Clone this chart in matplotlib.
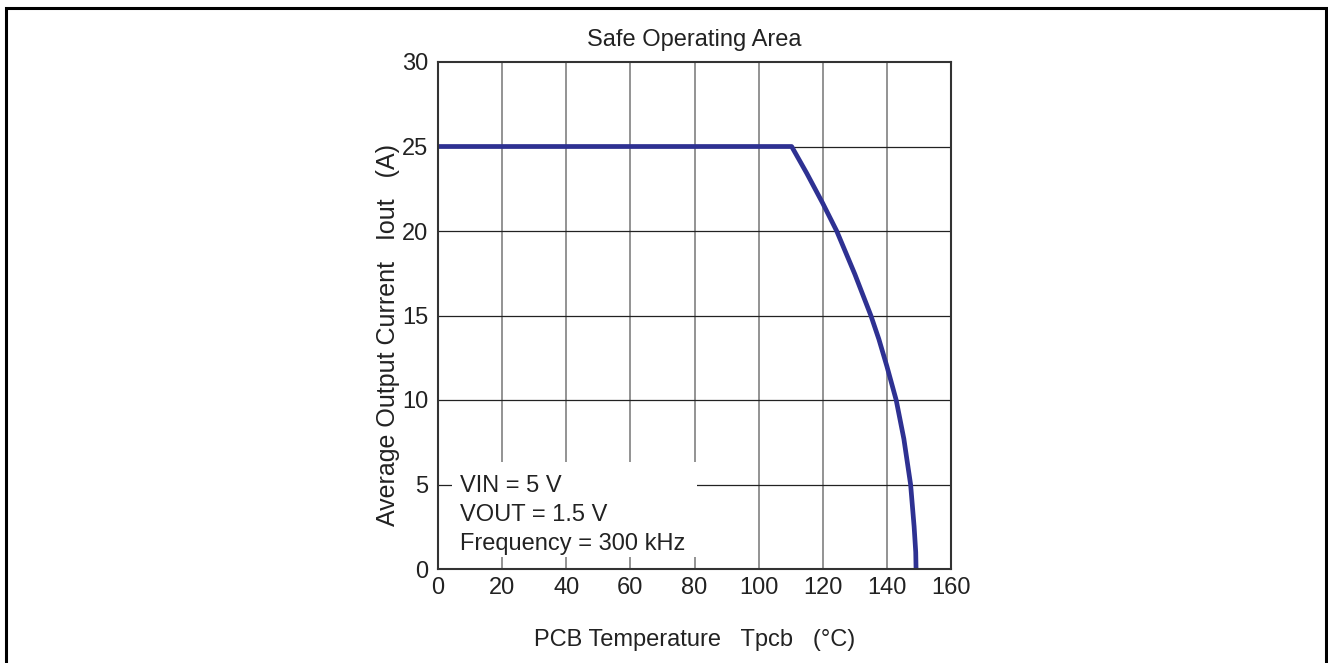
import matplotlib
matplotlib.use("Agg")
import matplotlib.pyplot as plt
from matplotlib.patches import Rectangle

FONT = ['Liberation Sans', 'DejaVu Sans']
plt.rcParams['font.family'] = FONT

# Data
temp_c = [0, 110.3, 115, 120, 124.35, 130, 135.0, 137.5, 140, 142.9,
          145.3, 147.4, 148.5, 149.0, 149.1]
iout_a = [25, 25, 23.42, 21.64, 20, 17.45, 15, 13.6, 12.0, 10,
          7.7, 5, 2.5, 1.0, 0]
x_ticks = [0, 20, 40, 60, 80, 100, 120, 140, 160]
y_ticks = [0, 5, 10, 15, 20, 25, 30]
title = "Safe Operating Area"
xlabel = "PCB Temperature   Tpcb   (\u00b0C)"
ylabel = "Average Output Current   Iout   (A)"
note_lines = ["VIN = 5 V", "VOUT = 1.5 V", "Frequency = 300 kHz"]

FS = 17
TXT = '#222222'

W, H = 1328, 663
fig = plt.figure(figsize=(W / 100, H / 100), dpi=100)
ax = fig.add_axes([438 / W, 1 - 569 / H, (951 - 438) / W, (569 - 62) / H])

ax.set_xlim(0, 160)
ax.set_ylim(0, 30)
ax.set_xticks(x_ticks)
ax.set_yticks(y_ticks)

# grid: vertical gray, horizontal dark
for x in x_ticks[1:-1]:
    ax.axvline(x, color='#8a8a8a', lw=1.3, zorder=1)
for y in y_ticks[1:-1]:
    ax.axhline(y, color='#222222', lw=0.9, zorder=1)

ax.plot(temp_c, iout_a, color='#2e3192', lw=3.4, solid_capstyle='butt',
        solid_joinstyle='round', zorder=4)

# white note box
ax.add_patch(Rectangle((4.37, 0.71), 76.4, 5.62, facecolor='white',
                       edgecolor='none', zorder=2))
for line, yy in zip(note_lines, [4.91, 3.2, 1.48]):
    ax.text(6.9, yy, line, fontsize=FS, color=TXT, va='center',
            ha='left', zorder=3)

for s in ax.spines.values():
    s.set_color('#333333')
    s.set_linewidth(1.5)
    s.set_zorder(5)

ax.tick_params(axis='both', length=0, labelsize=FS, labelcolor=TXT)
ax.tick_params(axis='x', pad=6)
ax.tick_params(axis='y', pad=7)

ax.text(0.5, 1.0434, title, transform=ax.transAxes, fontsize=FS, color=TXT,
        ha='center', va='center')
ax.set_xlabel(xlabel, fontsize=FS, color=TXT, va='center')
ax.xaxis.set_label_coords(0.5, -0.140)
ax.set_ylabel(ylabel, fontsize=18, color=TXT, va='center')
ax.yaxis.set_label_coords(-0.0975, 0.462)

# outer border
fig.add_artist(Rectangle((5.5 / W, -0.05), (1325.5 - 5.5) / W, 1 - 8 / H + 0.05,
                         transform=fig.transFigure, facecolor='none',
                         edgecolor='black', lw=2.2, clip_on=False))

fig.savefig("out.png", dpi=100)
